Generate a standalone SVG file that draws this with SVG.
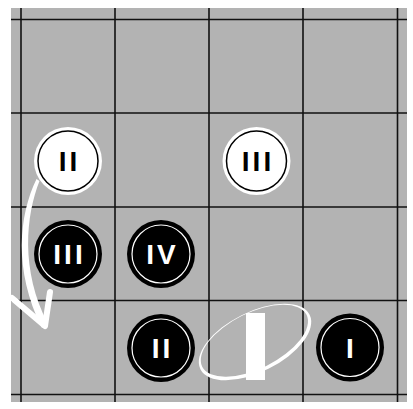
<svg xmlns="http://www.w3.org/2000/svg" width="413" height="409" viewBox="0 0 413 409">
<style>
.grid line{stroke:#111;stroke-width:1.6}
.ws{fill:#fff}
.wr{fill:none;stroke:#000;stroke-width:1.5}
.bs{fill:#000}
.br{fill:none;stroke:#fff;stroke-width:1.2}
.lbl{font-family:"Liberation Sans","DejaVu Sans",sans-serif;font-weight:bold;font-size:28px;text-anchor:middle;letter-spacing:3px}
.lw{fill:#000}
.lb{fill:#fff}
</style>
<rect width="413" height="409" fill="#fff"/>
<rect x="11" y="8" width="396" height="394" fill="#b3b3b3"/>
<g class="grid">
<line x1="21" y1="8" x2="21" y2="402"/>
<line x1="115" y1="8" x2="115" y2="402"/>
<line x1="209" y1="8" x2="209" y2="402"/>
<line x1="303" y1="8" x2="303" y2="402"/>
<line x1="397.5" y1="8" x2="397.5" y2="402"/>
<line x1="11" y1="19.5" x2="407" y2="19.5"/>
<line x1="11" y1="113" x2="407" y2="113"/>
<line x1="11" y1="207" x2="407" y2="207"/>
<line x1="11" y1="300.5" x2="407" y2="300.5"/>
<line x1="11" y1="394.5" x2="407" y2="394.5"/>
</g>
<g id="white-II">
<circle class="ws" cx="68" cy="161" r="34"/>
<circle class="wr" cx="68" cy="161" r="30"/>
<text class="lbl lw" x="69.5" y="171">II</text>
</g>
<g id="white-III">
<circle class="ws" cx="256.5" cy="161" r="34"/>
<circle class="wr" cx="256.5" cy="161" r="30"/>
<text class="lbl lw" x="258" y="171">III</text>
</g>
<g id="black-III">
<circle class="bs" cx="68" cy="254" r="34"/>
<circle class="br" cx="68" cy="254" r="29"/>
<text class="lbl lb" x="69.5" y="264">III</text>
</g>
<g id="black-IV">
<circle class="bs" cx="161" cy="254" r="34"/>
<circle class="br" cx="161" cy="254" r="29"/>
<text class="lbl lb" x="162.5" y="264">IV</text>
</g>
<g id="black-II">
<circle class="bs" cx="161" cy="348" r="34"/>
<circle class="br" cx="161" cy="348" r="29"/>
<text class="lbl lb" x="162.5" y="358">II</text>
</g>
<g id="black-I">
<circle class="bs" cx="350" cy="347.5" r="34"/>
<circle class="br" cx="350" cy="347.5" r="29"/>
<text class="lbl lb" x="351.5" y="357.5">I</text>
</g>
<g id="spinning-I">
<path fill="#fff" fill-rule="evenodd" transform="translate(255 342) rotate(-26.5)" d="M-61 0A61 30 0 1 0 61 0A61 30 0 1 0 -61 0Z M-58.3 -1.4A58.3 27.8 0 1 0 58.3 -1.4A58.3 27.8 0 1 0 -58.3 -1.4Z"/>
<rect x="246" y="313" width="19" height="67" fill="#fff"/>
</g>
<g id="connectors">
<path fill="#fff" d="M36.5 179C19 215 13 270 42 328L48 324C20 270 26 215 39.5 181Z"/>
<polyline points="12,298 45,326 50,292" fill="none" stroke="#fff" stroke-width="6" stroke-linecap="round" stroke-linejoin="round"/>
</g>
</svg>
